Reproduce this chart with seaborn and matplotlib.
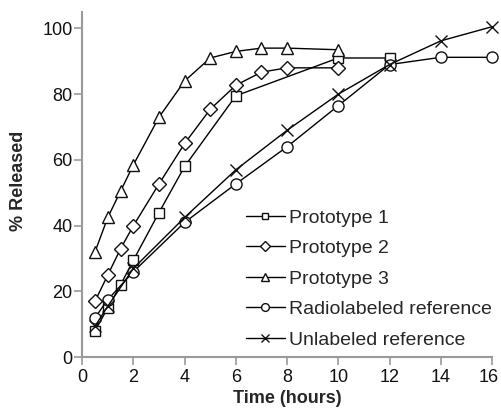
import matplotlib
matplotlib.use("Agg")
import matplotlib.pyplot as plt
import matplotlib.transforms as mtransforms
import seaborn as sns
import pandas as pd

sns.set_style("ticks")
plt.rcParams['font.family'] = ['Liberation Sans', 'DejaVu Sans']

p1_t = [0.5, 1, 1.5, 2, 3, 4, 6, 10, 12]
p1_v = [8, 15, 22, 29.5, 44, 58, 79.5, 91, 91]

p2_t = [0.5, 1, 1.5, 2, 3, 4, 5, 6, 7, 8, 10]
p2_v = [17, 25, 33, 40, 52.7, 65, 75.4, 82.7, 86.7, 88, 88]

p3_t = [0.5, 1, 1.5, 2, 3, 4, 5, 6, 7, 8, 10]
p3_v = [32, 42.5, 50.5, 58.5, 73, 84, 91, 93, 94, 94, 93.5]

rad_t = [0.5, 1, 2, 4, 6, 8, 10, 12, 14, 16]
rad_v = [12, 17.5, 26, 41, 52.7, 64, 76.5, 89, 91.2, 91.2]

unl_t = [0.5, 1, 2, 4, 6, 8, 10, 12, 14, 16]
unl_v = [9.4, 15.5, 27, 42.5, 57, 69, 80, 89, 96.2, 100.5]

names = ["Prototype 1", "Prototype 2", "Prototype 3",
         "Radiolabeled reference", "Unlabeled reference"]
x_ticks = [0, 2, 4, 6, 8, 10, 12, 14, 16]
y_ticks = [0, 20, 40, 60, 80, 100]

series = [(p1_t, p1_v, 's', 7), (p2_t, p2_v, 'D', 7), (p3_t, p3_v, '^', 8),
          (rad_t, rad_v, 'o', 8), (unl_t, unl_v, 'x', 8)]

fig = plt.figure(figsize=(5.01, 4.12), dpi=100)
ax = fig.add_axes([0.164, 0.133, 0.818, 0.838])

for name, (t, v, m, ms) in zip(names, series):
    df = pd.DataFrame({"t": t, "v": v})
    sns.lineplot(data=df, x="t", y="v", ax=ax, color="black", lw=1.0,
                 marker=m, markersize=ms, markerfacecolor="white",
                 markeredgecolor="#111111", markeredgewidth=1.0,
                 label=name, zorder=3, clip_on=False)

ax.set_xlim(0, 16)
ax.set_ylim(0, 105)
ax.set_xticks(x_ticks)
ax.set_yticks(y_ticks)
ax.tick_params(axis="both", labelsize=13, colors="#999999", labelcolor="#111111",
               length=5.5, width=1.2)
ax.tick_params(axis="y", pad=1.5)
ax.tick_params(axis="x", pad=3)
for s in ["left", "bottom"]:
    ax.spines[s].set_color("#999999")
    ax.spines[s].set_linewidth(1.5)
for s in ["top", "right"]:
    ax.spines[s].set_visible(False)

ax.set_xlabel("Time (hours)", fontsize=13, fontweight="bold", labelpad=3)
ax.set_ylabel("% Released", fontsize=13, fontweight="bold")
ax.yaxis.set_label_coords(-0.135, 0.51)

ax.legend(loc="lower left", bbox_to_anchor=(0.399, 0.025), frameon=False,
          fontsize=14, markerscale=0.7, handlelength=2.0, handletextpad=0.25,
          labelspacing=0.66, borderaxespad=0, borderpad=0)

fig.canvas.draw()
last = ax.xaxis.get_major_ticks()[-1].label1
last.set_transform(last.get_transform() +
                   mtransforms.ScaledTranslation(-3 / 100, 0, fig.dpi_scale_trans))

fig.savefig("out.png", dpi=100)
